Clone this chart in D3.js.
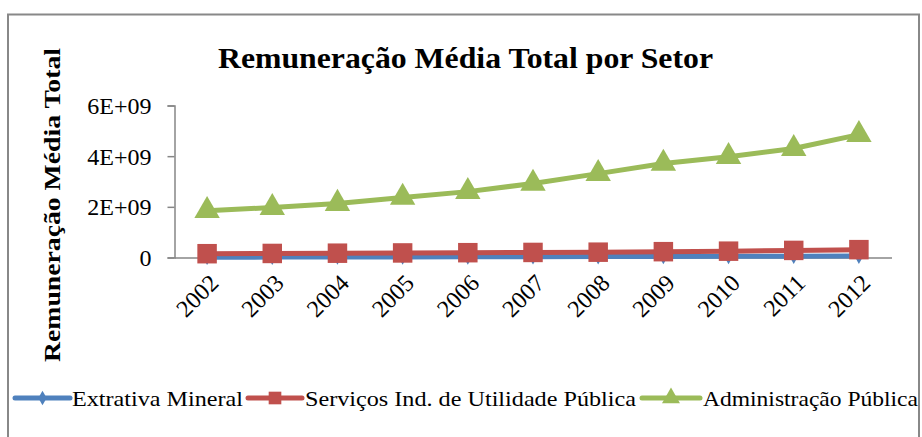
<!DOCTYPE html>
<html><head><meta charset="utf-8">
<script src="https://cdn.jsdelivr.net/npm/d3@7"></script>
<style>html,body{margin:0;padding:0;background:#fff;}svg{display:block;}
svg text{font-family:"Liberation Serif","Times New Roman",Times,"DejaVu Serif",serif;}</style>
</head><body>
<svg id="c" width="922" height="437"></svg>
<script>
const years = ["2002","2003","2004","2005","2006","2007","2008","2009","2010","2011","2012"];
const extrativa = [0.01e9,0.015e9,0.02e9,0.02e9,0.025e9,0.03e9,0.035e9,0.04e9,0.045e9,0.05e9,0.055e9];
const servicos = [0.15e9,0.16e9,0.17e9,0.18e9,0.19e9,0.20e9,0.21e9,0.23e9,0.25e9,0.28e9,0.31e9];
const administracao = [1.85e9,1.97e9,2.13e9,2.37e9,2.60e9,2.92e9,3.31e9,3.71e9,3.98e9,4.30e9,4.85e9];
const yTicks = [0,2e9,4e9,6e9];
const yTickLabels = ["0","2E+09","4E+09","6E+09"];
const seriesNames = ["Extrativa Mineral","Serviços Ind. de Utilidade Pública","Administração Pública"];
const colors = ["#4F81BD","#C0504D","#9BBB59"];

const svg = d3.select("#c");

// frame
svg.append("rect").attr("x",8).attr("y",14.5).attr("width",911).attr("height",440)
  .attr("fill","#fff").attr("stroke","#888").attr("stroke-width",2);

const x = d3.scaleBand().domain(years).range([174.5, 891.5]);
const y = d3.scaleLinear().domain([0,6e9]).range([257.5,105.5]);

// title
svg.append("text").attr("x",465.5).attr("y",68).attr("text-anchor","middle")
  .attr("font-weight","bold").attr("font-size",30)
  .attr("textLength",495).attr("lengthAdjust","spacingAndGlyphs")
  .text("Remuneração Média Total por Setor");

// y title
svg.append("text").attr("transform","translate(60,205) rotate(-90)").attr("text-anchor","middle")
  .attr("font-weight","bold").attr("font-size",24)
  .attr("textLength",314).attr("lengthAdjust","spacingAndGlyphs")
  .text("Remuneração Média Total");

// y axis
const yAxis = d3.axisLeft(y).tickValues(yTicks).tickFormat((d,i)=>yTickLabels[i]).tickSizeOuter(0).tickSize(7).tickPadding(16);
const gy = svg.append("g").attr("transform","translate(174.5,0)").call(yAxis);
gy.attr("font-family",null);
gy.select(".domain").attr("stroke","#868686").attr("stroke-width",1.5);
gy.selectAll(".tick line").attr("stroke","#868686").attr("stroke-width",1.5);
gy.selectAll(".tick text").attr("font-size",24).attr("fill","#000").attr("dy","0.33em");

// x axis
const xAxis = d3.axisBottom(x).tickSize(0).tickSizeOuter(0).tickPadding(0);
const gx = svg.append("g").attr("transform",`translate(0,${y(0)})`).call(xAxis);
gx.attr("font-family",null);
gx.select(".domain").attr("stroke","#868686").attr("stroke-width",1.5);
gx.selectAll(".tick text").attr("font-size",24).attr("fill","#000")
  .attr("text-anchor","end").attr("dy","0.35em")
  .attr("transform","translate(7,21) rotate(-45)");

const cx = d => x(d) + x.bandwidth()/2;
const data = [extrativa, servicos, administracao];
const line = d3.line().x((d,i)=>cx(years[i])).y(d=>y(d));

data.forEach((vals,si)=>{
  svg.append("path").datum(vals).attr("d",line).attr("fill","none")
    .attr("stroke",colors[si]).attr("stroke-width",5).attr("stroke-linejoin","round");
});
const sym = [d3.symbolDiamond, d3.symbolSquare, d3.symbolTriangle];
const sizes = [70, 380, 280];
data.forEach((vals,si)=>{
  svg.append("g").selectAll("path").data(vals).join("path")
    .attr("transform",(d,i)=>`translate(${cx(years[i])},${y(d)})`)
    .attr("d",d3.symbol().type(sym[si]).size(sizes[si]))
    .attr("fill",colors[si]);
});

// legend
const legend = [
  {lx1:15,lx2:70,tx:72,w:171},
  {lx1:248,lx2:302,tx:305,w:331},
  {lx1:642,lx2:700,tx:703,w:215}
];
const ly = 398;
legend.forEach((l,i)=>{
  svg.append("line").attr("x1",l.lx1).attr("x2",l.lx2).attr("y1",ly).attr("y2",ly)
    .attr("stroke",colors[i]).attr("stroke-width",5).attr("stroke-linecap","round");
  svg.append("path").attr("transform",`translate(${(l.lx1+l.lx2)/2},${ly})`)
    .attr("d",d3.symbol().type(sym[i]).size([60,160,140][i])).attr("fill",colors[i]);
  svg.append("text").attr("x",l.tx).attr("y",ly+8).attr("font-size",22)
    .attr("textLength",l.w).attr("lengthAdjust","spacingAndGlyphs")
    .text(seriesNames[i]);
});
</script>
</body></html>
